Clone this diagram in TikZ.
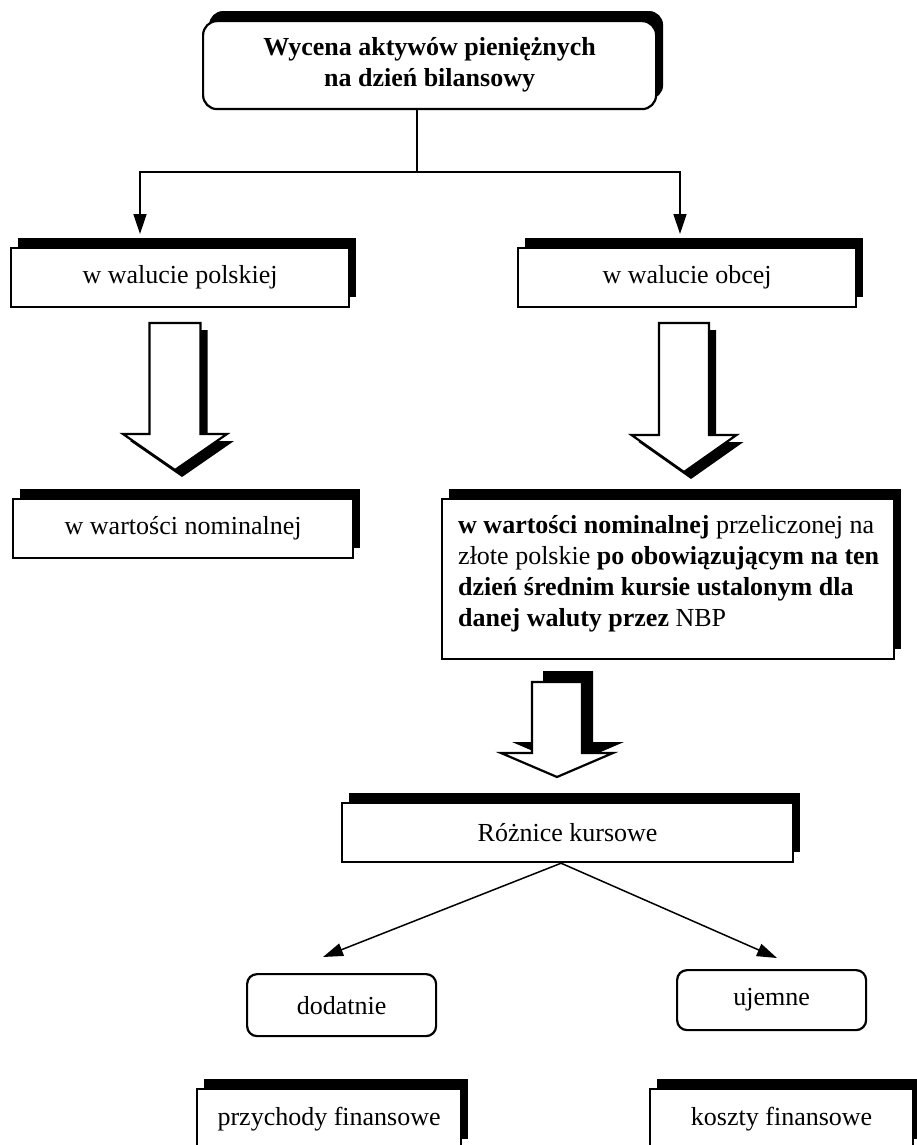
\documentclass[tikz,border=0pt]{standalone}
\usepackage{fontspec}
\setmainfont{Liberation Serif}
\usetikzlibrary{arrows.meta,shadows}

% hollow block arrow with a solid black offset shadow
% #1 centre x, #2 shaft half width, #3 shaft top, #4 head half width,
% #5 head base, #6 tip, #7/#8 shadow offset
\newcommand\fatarrow[8]{%
  \fill[black,shift={(#7,#8)}] ({#1-#2},#3) -- ({#1+#2},#3) -- ({#1+#2},#5) -- ({#1+#4},#5)
    -- (#1,#6) -- ({#1-#4},#5) -- ({#1-#2},#5) -- cycle;
  \draw[fatline] ({#1-#2},#3) -- ({#1+#2},#3) -- ({#1+#2},#5) -- ({#1+#4},#5)
    -- (#1,#6) -- ({#1-#4},#5) -- ({#1-#2},#5) -- cycle;
}

\tikzset{
  txt/.style={font=\fontsize{26}{31}\selectfont},
  box/.style={txt, draw, line width=2.2pt, fill=white, rectangle, inner sep=0pt,
    anchor=north west,
    general shadow={fill=black, shadow xshift=7pt, shadow yshift=10pt}},
  rbox/.style={txt, draw, line width=2.2pt, fill=white, rectangle, rounded corners=10pt,
    inner sep=0pt, anchor=north west},
  conn/.style={line width=1.5pt},
  arr/.style={line width=1.5pt, -{Triangle[length=20pt,width=13pt]}},
  fatline/.style={line width=2.2pt, fill=white, line join=miter},
}

\begin{document}
\begin{tikzpicture}[x=1pt,y=-1pt]
\useasboundingbox (0,0) rectangle (917,1145);
\clip (0,0) rectangle (917,1145);
\fill[white] (0,0) rectangle (917,1145);

% title
\node[box, rounded corners=14pt, font=\fontsize{26}{31}\selectfont\bfseries, align=center,
  minimum width=453pt, minimum height=88pt,
  general shadow={fill=black, shadow xshift=6pt, shadow yshift=10pt}] (top) at (202,20)
  {Wycena aktywów pieniężnych\\na dzień bilansowy};

% currency split
\node[box, minimum width=338pt, minimum height=59pt] (pl) at (10,247) {w walucie polskiej};
\node[box, minimum width=338pt, minimum height=59pt] (ob) at (517,247) {w walucie obcej};

\coordinate (split) at (417,172);
\coordinate (plin) at (140,234);
\coordinate (obin) at (680,234);
\draw[conn] (top.south -| split) -- (split);
\draw[arr] (split) -| (plin);
\draw[arr] (split) -| (obin);

% valuation
\fatarrow{175}{25.5}{323}{52}{434}{470}{7}{7}
\fatarrow{684}{25}{323}{52.5}{435}{472}{7}{7}

\node[box, minimum width=340pt, minimum height=59pt] (nom) at (12,498) {w wartości nominalnej};
\node[box, minimum width=452pt, minimum height=160pt] (conv) at (441,498) {};
\node[txt, anchor=north west, align=left, inner sep=0pt] (convtext) at (458,515)
  {\textbf{w wartości nominalnej} przeliczonej na\\
   złote polskie \textbf{po obowiązującym na ten}\\
   \textbf{dzień średnim kursie ustalonym dla}\\
   \textbf{danej waluty przez} NBP};

% exchange differences
\fatarrow{557}{25}{682}{56}{753}{777}{11}{-11}

\node[box, minimum width=451pt, minimum height=59pt] (rk) at (341,802) {Różnice kursowe};

\node[rbox, minimum width=189pt, minimum height=62pt] (dod) at (246,973) {dodatnie};
\node[rbox, minimum width=189pt, minimum height=60pt] (uje) at (676,969) {ujemne};

\coordinate (dodin) at (323,957);
\coordinate (ujin) at (777,958);
\draw[arr] ([xshift=-6.5pt]rk.south) -- (dodin);
\draw[arr] ([xshift=-6.5pt]rk.south) -- (ujin);

\node[box, minimum width=264pt, minimum height=60pt] (prz) at (196,1088) {przychody finansowe};
\node[box, minimum width=263pt, minimum height=60pt] (kos) at (649,1088) {koszty finansowe};
\end{tikzpicture}
\end{document}
